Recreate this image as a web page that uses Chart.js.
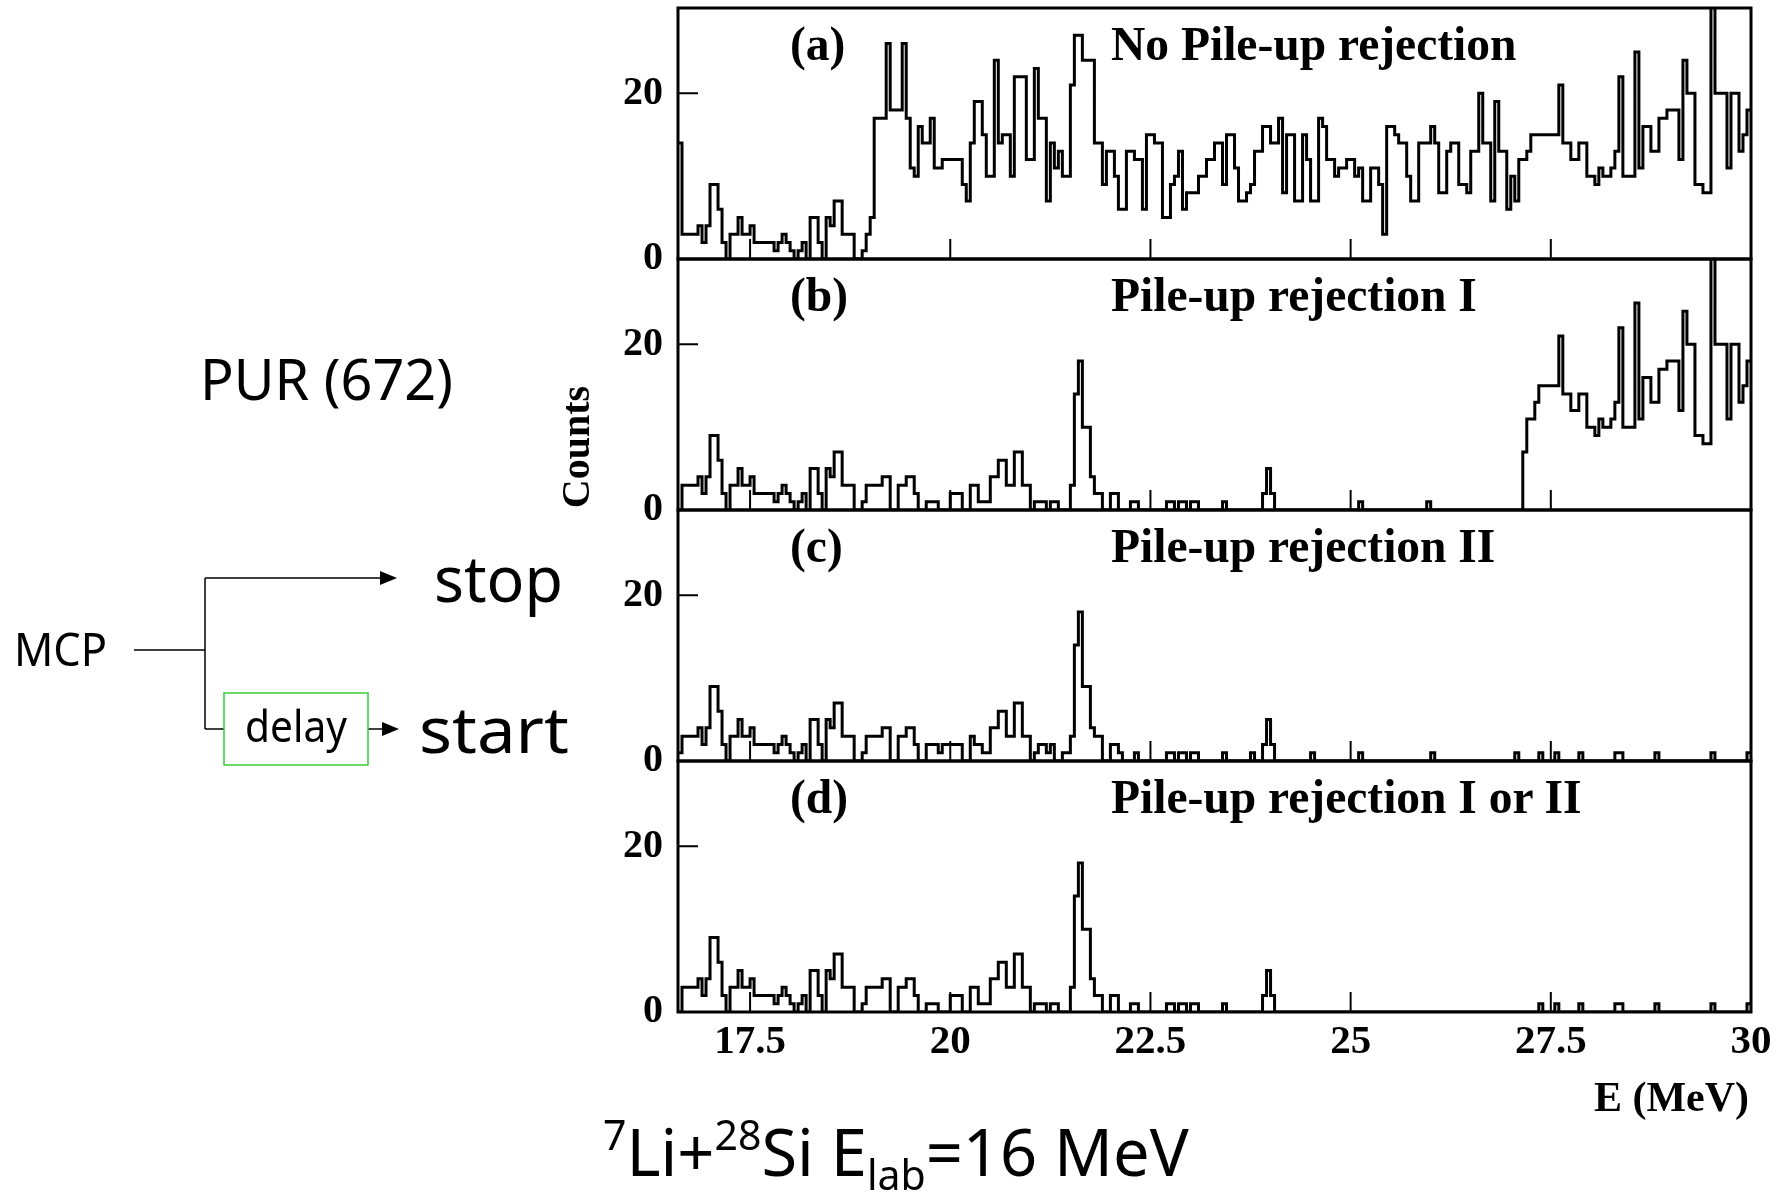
<!DOCTYPE html>
<html><head><meta charset="utf-8">
<script src="https://cdn.jsdelivr.net/npm/chart.js@4.4.1/dist/chart.umd.min.js"></script>
<style>
html,body{margin:0;padding:0;background:#fff;width:1785px;height:1196px;overflow:hidden;}
canvas{position:absolute;}
svg{position:absolute;left:0;top:0;}
</style></head><body>
<canvas id="cA"></canvas>
<canvas id="cB"></canvas>
<canvas id="cC"></canvas>
<canvas id="cD"></canvas>
<svg width="1785" height="1196" viewBox="0 0 1785 1196" xmlns="http://www.w3.org/2000/svg">
<g font-family="'Liberation Serif','Times New Roman',serif" font-weight="bold" fill="#000">
 <text x="790" y="60" font-size="47.5">(a)</text>
 <text x="1111" y="60" font-size="47.5">No Pile-up rejection</text>
 <text x="790" y="311" font-size="47.5">(b)</text>
 <text x="1111" y="311" font-size="47.5">Pile-up rejection I</text>
 <text x="790" y="562" font-size="47.5">(c)</text>
 <text x="1111" y="562" font-size="47.5">Pile-up rejection II</text>
 <text x="790" y="813" font-size="47.5">(d)</text>
 <text x="1111" y="813" font-size="47.5">Pile-up rejection I or II</text>
 <text transform="translate(589,447) rotate(-90)" text-anchor="middle" font-size="40">Counts</text>
 <text x="1749" y="1111" text-anchor="end" font-size="42">E (MeV)</text>
</g>
<g font-family="'Comic Sans MS','Noto Sans',sans-serif" fill="#000">
 <text x="200" y="400" font-size="56" textLength="253" lengthAdjust="spacingAndGlyphs">PUR (672)</text>
 <text x="434" y="602" font-size="64" textLength="129" lengthAdjust="spacingAndGlyphs">stop</text>
 <text x="419" y="753" font-size="64" textLength="150" lengthAdjust="spacingAndGlyphs">start</text>
 <text x="14" y="666" font-size="46" textLength="93" lengthAdjust="spacingAndGlyphs">MCP</text>
 <text x="245" y="742" font-size="44" textLength="102" lengthAdjust="spacingAndGlyphs">delay</text>
 <text x="603" y="1176" font-size="65"><tspan font-size="41" dy="-26">7</tspan><tspan dy="26">Li+</tspan><tspan font-size="41" dy="-26">28</tspan><tspan dy="26">Si  E</tspan><tspan font-size="41" dy="14">lab</tspan><tspan dy="-14">=16 MeV</tspan></text>
</g>
<g stroke="#000" stroke-width="1.5" fill="none">
 <line x1="134" y1="650" x2="205" y2="650"/>
 <line x1="205" y1="578" x2="205" y2="729"/>
 <line x1="205" y1="578" x2="384" y2="578"/>
 <line x1="205" y1="729" x2="224" y2="729"/>
 <line x1="368" y1="729" x2="385" y2="729"/>
</g>
<polygon points="380,571 397,578 380,585" fill="#000"/>
<polygon points="382,722 399,729 382,736" fill="#000"/>
<rect x="224" y="693" width="144" height="72" fill="none" stroke="#33cc33" stroke-width="1.5"/>
</svg>
<script>
const E_MIN = 16.6, E_MAX = 30, BIN_W = 0.05;
const Y_MAX = 30.3;
const xTickValues = [17.5, 20, 22.5, 25, 27.5, 30];
const yTickValues = [0, 20];

const countsA = [
14,3,3,3,3,4,2,4,9,9,
6,2,0,3,3,5,3,3,4,2,
2,2,2,2,1,2,3,2,1,0,
1,2,0,5,5,2,0,5,4,7,
7,3,3,3,0,0,1,3,5,17,
17,17,26,18,18,18,26,17,11,10,
16,14,14,17,11,11,12,12,12,12,
12,9,7,14,19,19,15,10,10,24,
14,15,15,10,22,22,22,12,12,23,
17,17,7,14,11,13,10,10,21,27,
27,24,24,24,14,14,9,13,13,10,
6,6,13,13,12,12,6,15,15,14,
14,5,5,9,10,13,6,8,8,8,
10,10,12,12,14,14,9,15,15,11,
7,7,8,9,13,13,16,16,14,14,
17,8,15,15,7,7,15,12,7,7,
17,16,12,12,10,11,11,12,12,10,
11,7,7,11,11,9,3,16,16,15,
14,14,10,7,7,14,14,14,16,14,
8,8,13,14,14,9,9,8,13,13,
20,14,14,7,19,13,13,6,10,7,
12,12,13,15,15,15,15,15,15,15,
21,14,14,12,12,14,14,10,10,9,
11,10,10,11,13,22,10,10,10,25,
11,16,16,13,13,17,17,18,18,18,
12,24,20,20,9,9,8,8,31,20,
20,20,11,20,20,13,15,18
];

const countsB = [
0,3,3,3,3,4,2,4,9,9,
6,2,0,3,3,5,3,3,4,2,
2,2,2,2,1,2,3,2,1,0,
1,2,0,5,5,2,0,5,4,7,
7,3,3,3,0,0,1,3,3,3,
3,4,4,0,0,3,3,4,4,2,
0,0,1,1,1,0,0,0,2,2,
2,0,0,3,3,1,1,1,4,4,
6,6,3,3,7,7,3,3,0,1,
1,1,0,1,1,0,0,0,3,14,
18,10,10,4,2,2,0,0,2,2,
0,0,0,1,1,0,0,0,0,0,
0,0,1,1,0,1,1,0,1,1,
0,0,0,0,0,0,1,0,0,0,
0,0,0,0,0,0,2,5,2,0,
0,0,0,0,0,0,0,0,0,0,
0,0,0,0,0,0,0,0,0,0,
1,0,0,0,0,0,0,0,0,0,
0,0,0,0,0,0,0,1,0,0,
0,0,0,0,0,0,0,0,0,0,
0,0,0,0,0,0,0,0,0,0,
0,7,11,11,13,15,15,15,15,15,
21,14,14,12,12,14,14,10,10,9,
11,10,10,11,13,22,10,10,10,25,
11,16,16,13,13,17,17,18,18,18,
12,24,20,20,9,9,8,8,31,20,
20,20,11,20,20,13,15,18
];

const countsC = [
1,3,3,3,3,4,2,4,9,9,
6,2,0,3,3,5,3,3,4,2,
2,2,2,2,1,2,3,2,1,0,
1,2,0,5,5,2,0,5,4,7,
7,3,3,3,0,0,1,3,3,3,
3,4,4,0,0,3,3,4,4,2,
0,0,2,2,2,1,2,2,2,2,
2,0,0,3,2,2,1,1,4,4,
6,6,3,3,7,7,3,3,0,1,
2,2,1,2,0,0,1,1,3,14,
18,9,9,4,3,3,0,0,2,2,
1,0,0,0,1,0,0,0,0,0,
0,0,1,1,0,1,1,0,1,1,
0,0,0,0,0,0,1,0,0,0,
0,0,0,1,0,0,2,5,2,0,
0,0,0,0,0,0,0,0,1,0,
0,0,0,0,0,0,0,0,0,0,
1,0,0,0,0,0,0,0,0,0,
0,0,0,0,0,0,0,0,1,0,
0,0,0,0,0,0,0,0,0,0,
0,0,0,0,0,0,0,0,0,1,
0,0,0,0,0,1,0,0,0,1,
0,0,0,0,0,1,0,0,0,0,
0,0,0,0,1,1,0,0,0,0,
0,0,0,0,1,0,0,0,0,0,
0,0,0,0,0,0,0,0,1,0,
0,0,0,0,0,0,0,1
];

const countsD = [
0,3,3,3,3,4,2,4,9,9,
6,2,0,3,3,5,3,3,4,2,
2,2,2,2,1,2,3,2,1,0,
1,2,0,5,5,2,0,5,4,7,
7,3,3,3,0,0,1,3,3,3,
3,4,4,0,0,3,3,4,4,2,
0,0,1,1,1,0,0,0,2,2,
2,0,0,3,3,1,1,1,4,4,
6,6,3,3,7,7,3,3,0,1,
1,1,0,1,1,0,0,0,3,14,
18,10,10,4,2,2,0,0,2,2,
0,0,0,1,1,0,0,0,0,0,
0,0,1,1,0,1,1,0,1,1,
0,0,0,0,0,0,1,0,0,0,
0,0,0,0,0,0,2,5,2,0,
0,0,0,0,0,0,0,0,0,0,
0,0,0,0,0,0,0,0,0,0,
0,0,0,0,0,0,0,0,0,0,
0,0,0,0,0,0,0,0,0,0,
0,0,0,0,0,0,0,0,0,0,
0,0,0,0,0,0,0,0,0,0,
0,0,0,0,0,1,0,0,0,1,
0,0,0,0,0,1,0,0,0,0,
0,0,0,0,1,1,0,0,0,0,
0,0,0,0,1,0,0,0,0,0,
0,0,0,0,0,0,0,0,1,0,
0,0,0,0,0,0,0,1
];

const SERIF = "'Liberation Serif','Times New Roman',serif";

const framePlugin = {
  id: 'frame',
  afterDatasetsDraw(chart) {
    const {ctx, chartArea: a, scales: {x, y}} = chart;
    ctx.save();
    ctx.strokeStyle = '#000';
    ctx.lineWidth = 2;
    ctx.beginPath();
    xTickValues.forEach(v => {
      const px = x.getPixelForValue(v);
      ctx.moveTo(px, a.bottom);
      ctx.lineTo(px, a.bottom - 20);
    });
    yTickValues.filter(v => v > 0).forEach(v => {
      const py = y.getPixelForValue(v);
      ctx.moveTo(a.left, py);
      ctx.lineTo(a.left + 20, py);
    });
    ctx.stroke();
    ctx.lineWidth = 3;
    ctx.strokeRect(a.left, a.top, a.right - a.left, a.bottom - a.top);
    ctx.restore();
  }
};

function makePanel(id, counts, top, bottom, showX) {
  const padTop = 60, padBot = showX ? 0 : 60, xAxisH = showX ? 70 : 0;
  const canvas = document.getElementById(id);
  const h = padTop + (bottom - top) + padBot + xAxisH;
  canvas.width = 1225; canvas.height = h;
  canvas.style.left = '560px'; canvas.style.top = (top - padTop) + 'px';
  canvas.style.width = '1225px'; canvas.style.height = h + 'px';
  const pts = counts.map((c, i) => ({x: E_MIN + i * BIN_W, y: c}));
  pts.push({x: E_MAX, y: counts[counts.length - 1]});
  new Chart(canvas, {
    type: 'line',
    data: {datasets: [{data: pts, stepped: 'before', borderColor: '#000', borderWidth: 3,
      pointRadius: 0, fill: false, tension: 0, borderJoinStyle: 'miter', borderCapStyle: 'butt'}]},
    options: {
      responsive: false, animation: false, devicePixelRatio: 1,
      layout: {padding: {left: 0, right: 34, top: padTop, bottom: padBot}},
      plugins: {legend: {display: false}, tooltip: {enabled: false}},
      scales: {
        x: {type: 'linear', min: E_MIN, max: E_MAX, display: showX,
          afterBuildTicks: s => { s.ticks = xTickValues.map(v => ({value: v})); },
          afterFit: s => { s.height = xAxisH; },
          grid: {display: false, drawTicks: false}, border: {display: false},
          ticks: {font: {family: SERIF, size: 41, weight: 'bold'}, color: '#000', padding: 6,
            maxRotation: 0, autoSkip: false, callback: v => String(v)}},
        y: {type: 'linear', min: 0, max: Y_MAX,
          afterBuildTicks: s => { s.ticks = yTickValues.map(v => ({value: v})); },
          afterFit: s => { s.width = 118; },
          grid: {display: false, drawTicks: false}, border: {display: false},
          ticks: {font: {family: SERIF, size: 40, weight: 'bold'}, color: '#000', padding: 15,
            autoSkip: false, callback: v => String(v)}}
      }
    },
    plugins: [framePlugin]
  });
}

makePanel('cA', countsA, 8, 259, false);
makePanel('cB', countsB, 259, 510, false);
makePanel('cC', countsC, 510, 761, false);
makePanel('cD', countsD, 761, 1012, true);
</script>
</body></html>
